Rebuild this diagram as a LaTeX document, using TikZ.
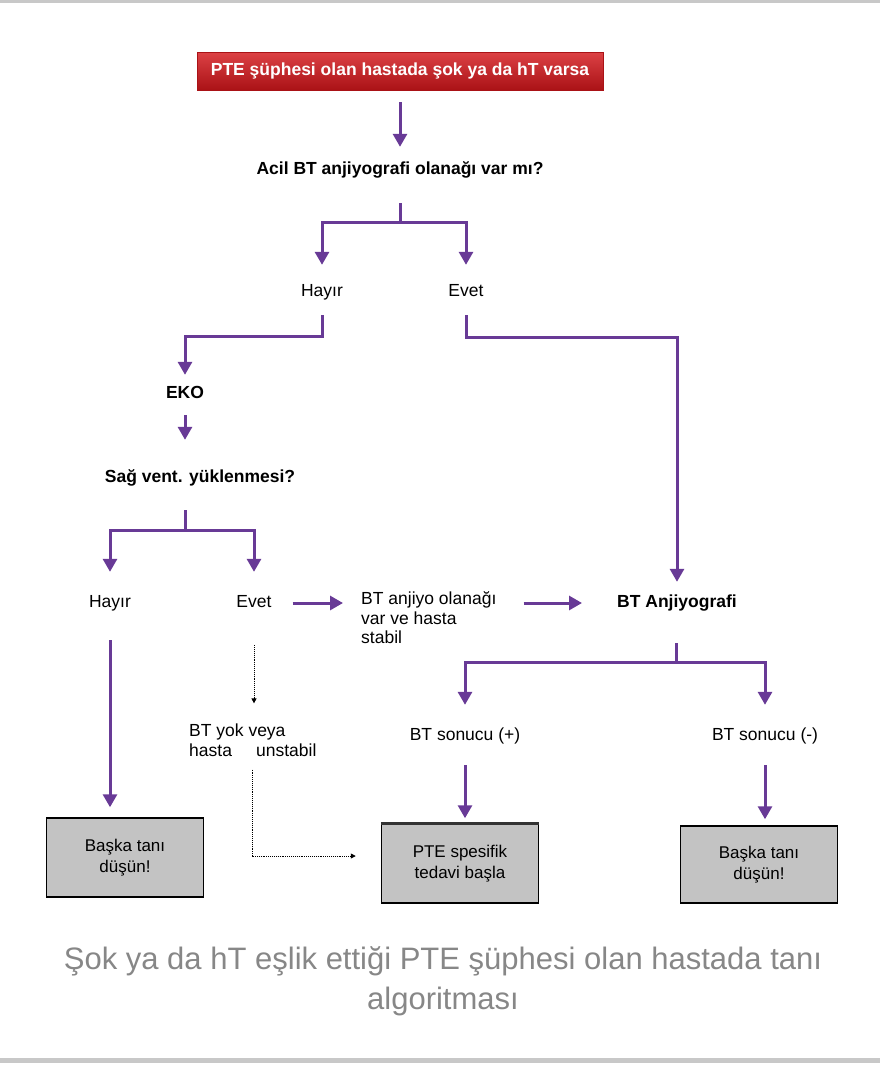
\documentclass[tikz,border=0pt]{standalone}
\usepackage{fontspec}
\setmainfont{Liberation Sans}
\usepackage{tikz}
\usetikzlibrary{arrows.meta}
\definecolor{flow}{RGB}{104, 58, 150}
\definecolor{alarm}{RGB}{214, 32, 36}
\definecolor{alarmdark}{RGB}{170, 18, 22}
\definecolor{boxfill}{RGB}{195, 195, 195}
\definecolor{caption}{RGB}{135, 135, 135}
\definecolor{rule}{RGB}{200, 200, 200}
\tikzset{
  lbl/.style={inner sep=0pt,text height=13pt,text depth=4pt,font=\fontsize{17.5}{20}\selectfont},
  qst/.style={lbl,font=\fontsize{17.5}{20}\selectfont\bfseries},
  arr/.style={flow,line width=3pt,-{Triangle[width=14pt,length=13pt]}},
  ln/.style={flow,line width=3pt},
  dots/.style={black,densely dotted,line width=0.9pt,-{Triangle[width=5pt,length=5pt]}},
  endbox/.style={draw=black,line width=1.5pt,fill=boxfill,align=center,minimum width=157pt,font=\fontsize{17}{21}\selectfont}
}
\begin{document}
\begin{tikzpicture}[x=1pt,y=-1pt]
\useasboundingbox (0,0) rectangle (880,1068);
\fill[rule] (0,0) rectangle (880,3);
\fill[rule] (0,1058) rectangle (880,1063);
\node[draw=alarmdark,top color=alarm!85!white,bottom color=alarmdark,minimum width=406pt,minimum height=38pt,text=white,font=\fontsize{17.5}{20}\selectfont\bfseries] (top) at (400,71) {PTE şüphesi olan hastada şok ya da hT varsa};
\node[qst] (q1) at (400,170) {Acil BT anjiyografi olanağı var mı?};
\node[lbl] (h1) at (322,292) {Hayır};
\node[lbl] (e1) at (466,292) {Evet};
\node[qst] (eko) at (185,394) {EKO};
\node[qst] (q2) at (200,478) {Sağ vent. yüklenmesi?};
\node[lbl] (h2) at (110,603) {Hayır};
\node[lbl] (e2) at (254,603) {Evet};
\node[lbl,align=left,text height=,text depth=,anchor=west,font=\fontsize{17.5}{19.5}\selectfont] (stab) at (361,618) {BT anjiyo olanağı\\var ve hasta\\stabil};
\node[qst] (bta) at (677,603) {BT Anjiyografi};
\node[lbl,align=left,text height=,text depth=,anchor=west,font=\fontsize{17.5}{20}\selectfont] (unst) at (189,740) {BT yok veya\\hasta \hspace{1.1em}unstabil};
\node[lbl] (pos) at (465,736) {BT sonucu (+)};
\node[lbl] (neg) at (765,736) {BT sonucu (-)};
\node[endbox,minimum height=79pt] (box1) at (125,857.5) {Başka tanı\\düşün!};
\node[endbox,minimum height=79pt] (box2) at (460,863.5) {PTE spesifik\\tedavi başla};
\node[endbox,minimum height=77pt] (box3) at (759,864.5) {Başka tanı\\düşün!};
\draw[black!80,line width=3pt] (box2.north west) -- (box2.north east);
\node[text=caption,align=center,font=\fontsize{31}{40}\selectfont] (cap) at (443,981) {Şok ya da hT eşlik ettiği PTE şüphesi olan hastada tanı\\algoritması};
\coordinate (j1) at (400,222);
\coordinate (k1) at (322,336);
\coordinate (k2) at (466,337);
\coordinate (j2) at (185,530);
\coordinate (j3) at (676,662);
\coordinate (k3) at (252,856);
\draw[arr,shorten <=12pt,shorten >=14.5pt] (top.south) -- (q1.north);
\draw[ln,shorten <=24.5pt] (q1.south) -- (j1);
\draw[arr,shorten >=18.5pt] (j1) -| (h1.north);
\draw[arr,shorten >=18.5pt] (j1) -| (e1.north);
\draw[arr,shorten <=14.5pt,shorten >=10.5pt] (h1.south) -- (k1) -| (eko.north);
\draw[arr,shorten <=14.5pt,shorten >=12.5pt] (e1.south) -- (k2) -| (bta.north);
\draw[arr,shorten <=12.5pt,shorten >=29.5pt] (eko.south) -- (eko.south |- q2.north);
\draw[ln,shorten <=23.5pt] (q2.south -| j2) -- (j2);
\draw[arr,shorten >=22.5pt] (j2) -| (h2.north);
\draw[arr,shorten >=22.5pt] (j2) -| (e2.north);
\draw[arr,shorten <=21pt,shorten >=18pt] (e2.east) -- (e2.east -| stab.west);
\draw[arr,shorten <=27pt,shorten >=35pt] (stab.east |- bta.west) -- (bta.west);
\draw[ln,shorten <=31.5pt] (bta.south -| j3) -- (j3);
\draw[arr,shorten >=22.5pt] (j3) -| (pos.north);
\draw[arr,shorten >=22.5pt] (j3) -| (neg.north);
\draw[arr,shorten <=20.5pt,shorten >=5pt] (pos.south) -- (pos.south |- box2.north);
\draw[arr,shorten <=20.5pt,shorten >=6pt] (neg.south) -- (neg.south |- box3.north);
\draw[arr,shorten <=28.5pt,shorten >=10pt] (h2.south) -- (h2.south |- box1.north);
\draw[dots,shorten <=33.5pt,shorten >=20pt] (e2.south) -- (e2.south |- unst.north);
\draw[dots,shorten <=13pt,shorten >=25pt] (unst.south -| k3) -- (k3) -- (k3 -| box2.west);
\end{tikzpicture}
\end{document}
